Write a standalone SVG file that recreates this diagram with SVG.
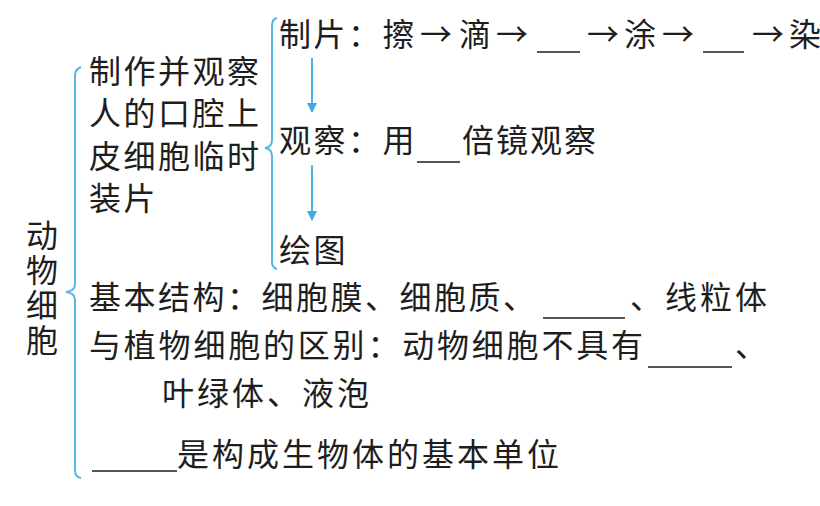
<svg xmlns="http://www.w3.org/2000/svg" width="820" height="506" viewBox="0 0 820 506">
<style>
.t{font-family:"Noto Sans CJK SC","Noto Sans",sans-serif;font-size:32px;fill:#1e1e1e;letter-spacing:2.5px}
.a{font-family:"Noto Sans CJK SC","Noto Sans",sans-serif;font-size:32px;fill:#1e1e1e}
.v{font-family:"Noto Sans CJK SC","Noto Sans",sans-serif;font-size:32px;fill:#1e1e1e;writing-mode:vertical-rl;letter-spacing:3px}
.blank{stroke:#1e1e1e;stroke-width:1.6}
.brace{fill:none;stroke:#56b6e4;stroke-width:2}
.arr{stroke:#3fa9e6;stroke-width:1.8}
</style>
<defs>
<marker id="ah" viewBox="0 0 10 10" refX="9" refY="5" markerWidth="10" markerHeight="10" markerUnits="userSpaceOnUse" orient="auto">
<path d="M0,0 L10,5 L0,10 Z" fill="#3fa9e6"/>
</marker>
</defs>
<rect width="820" height="506" fill="#ffffff"/>
<g id="connectors">
<path class="brace" d="M81 67 Q75 69 75 76 L75 284 Q75 291 66 292 Q75 293 75 300 L75 470 Q75 477 81 478"/>
<path class="brace" d="M277 18 Q272 19 272 26 L272 140 Q272 147 265 148 Q272 149 272 156 L272 262 Q272 268 277 269"/>
<line class="arr" x1="312" y1="58" x2="312" y2="112" marker-end="url(#ah)"/>
<line class="arr" x1="312" y1="165" x2="312" y2="220" marker-end="url(#ah)"/>
</g>
<g id="animal-cell">
<text class="v" x="42" y="219">动物细胞</text>
</g>
<g id="make-observe">
<text class="t" x="89" y="83">制作并观察</text>
<text class="t" x="89" y="125">人的口腔上</text>
<text class="t" x="89" y="168">皮细胞临时</text>
<text class="t" x="89" y="210">装片</text>
</g>
<g id="step-make">
<text class="t" x="279" y="46">制片：擦</text>
<text class="a" x="420" y="46">→</text>
<text class="a" x="459" y="46">滴</text>
<text class="a" x="496" y="46">→</text>
<line class="blank" x1="537" y1="52" x2="580" y2="52"/>
<text class="a" x="587" y="46">→</text>
<text class="a" x="624" y="46">涂</text>
<text class="a" x="662" y="46">→</text>
<line class="blank" x1="703" y1="52" x2="744" y2="52"/>
<text class="a" x="752" y="46">→</text>
<text class="a" x="789" y="46">染</text>
</g>
<g id="step-observe">
<text class="t" x="279" y="152">观察：用</text>
<line class="blank" x1="417" y1="162" x2="460" y2="162"/>
<text class="t" x="462" y="152" style="letter-spacing:2px">倍镜观察</text>
</g>
<g id="step-draw">
<text class="t" x="279" y="262">绘图</text>
</g>
<g id="basic-structure">
<text class="t" x="89" y="309">基本结构：细胞膜、细胞质、</text>
<line class="blank" x1="543" y1="318" x2="625" y2="318"/>
<text class="t" x="630" y="309" style="letter-spacing:3px">、线粒体</text>
</g>
<g id="difference">
<text class="t" x="89" y="357" style="letter-spacing:2.8px">与植物细胞的区别：动物细胞不具有</text>
<line class="blank" x1="648" y1="367" x2="732" y2="367"/>
<text class="t" x="735" y="357">、</text>
<text class="t" x="162" y="405" style="letter-spacing:3px">叶绿体、液泡</text>
</g>
<g id="basic-unit">
<line class="blank" x1="92" y1="471" x2="177" y2="471"/>
<text class="t" x="177" y="466" style="letter-spacing:3px">是构成生物体的基本单位</text>
</g>
</svg>
